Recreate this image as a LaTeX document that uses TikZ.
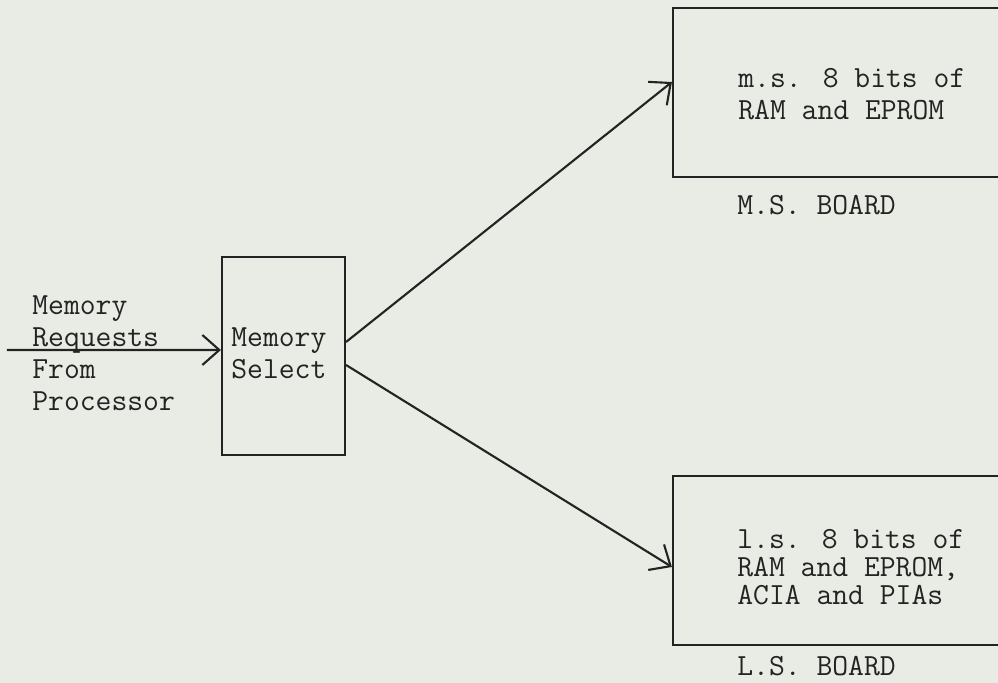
\documentclass[tikz,border=0pt]{standalone}
\usepackage{tikz}
\usepackage{xcolor}
\usetikzlibrary{arrows.meta}
\definecolor{paper}{RGB}{233,236,229}
\definecolor{ink}{RGB}{35,35,35}

\begin{document}
\begin{tikzpicture}[
    box/.style={draw=ink, line width=1.2pt, minimum width=#1, minimum height=3.38cm, inner sep=0pt},
    txt/.style={anchor=west, align=left, text=ink, inner sep=0pt, font=\ttfamily\fontsize{17.5}{18.2}\selectfont},
    link/.style={draw=ink, line width=1.2pt, -{Straight Barb[length=0.34cm, width=0.6cm, line width=1.2pt]}}
  ]
  % Page and background
  \useasboundingbox (0,0) rectangle (19.96,13.66);
  \fill[paper] (0,0) rectangle (19.96,13.66);
  \clip (0,0) rectangle (19.96,13.66);

  % Memory select
  \node[box=2.46cm, minimum height=3.96cm] (sel) at (5.67, 6.54) {};
  \node[txt] (seltxt) at (4.62, 6.60) {Memory\\Select};

  % Input from processor
  \coordinate (in) at (0.14, 6.66);
  \node[txt] (intxt) at (0.64, 6.60) {Memory\\Requests\\From\\Processor};

  % M.S. board
  \node[box=6.94cm] (ms) at (16.93, 11.81) {};
  \node[txt] (mstxt) at (14.76, 11.78) {m.s. 8 bits of\\RAM and EPROM};
  \node[txt] (mslbl) at (14.74, 9.56) {M.S. BOARD};

  % L.S. board
  \node[box=6.94cm] (ls) at (16.93, 2.45) {};
  \node[txt, font=\ttfamily\fontsize{17.5}{15.9}\selectfont] (lstxt) at (14.74, 2.32) {l.s. 8 bits of\\RAM and EPROM,\\ACIA and PIAs};
  \node[txt] (lslbl) at (14.74, 0.34) {L.S. BOARD};

  % Connections
  \draw[link] (in) -- ([yshift=0.12cm]sel.west);
  \draw[link] ([yshift=0.28cm]sel.east) -- ([yshift=0.21cm]ms.west);
  \draw[link] ([yshift=-0.18cm]sel.east) -- ([yshift=-0.13cm]ls.west);
\end{tikzpicture}
\end{document}
